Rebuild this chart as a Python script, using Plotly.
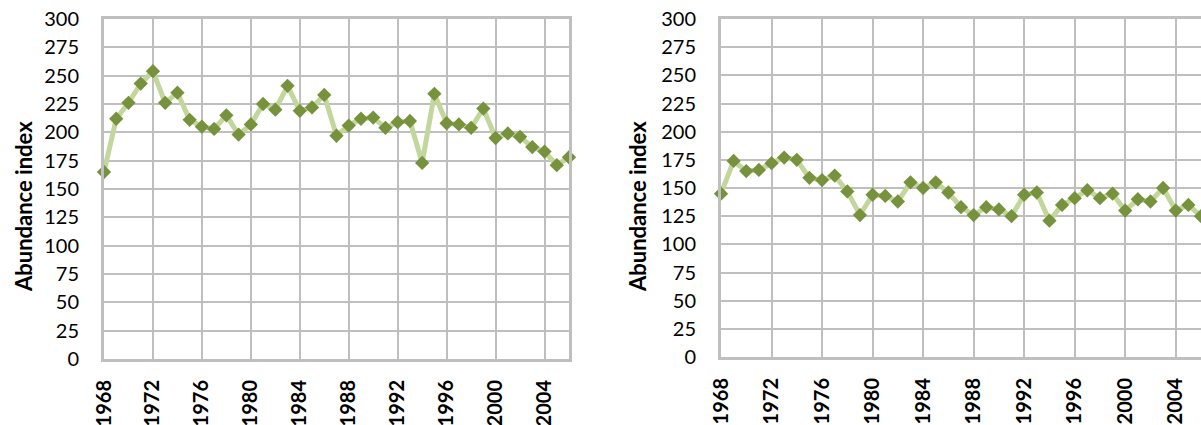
import plotly.graph_objects as go

##### data
years = list(range(1968, 2007))

left_index = [165, 212, 226, 243, 254, 226, 235, 211, 205, 203,
              215, 198, 207, 225, 220, 241, 219, 222, 233, 197,
              206, 212, 213, 204, 209, 210, 173, 234, 208, 207,
              204, 221, 195, 199, 196, 187, 183, 171, 178]

right_index = [145, 174, 165, 166, 172, 177, 175, 159, 157, 161,
               147, 126, 144, 143, 138, 155, 150, 155, 146, 133,
               126, 133, 131, 125, 144, 146, 121, 135, 141, 148,
               141, 145, 130, 140, 138, 150, 130, 135, 125]

y_ticks = list(range(0, 301, 25))
x_ticks = list(range(1968, 2005, 4))

grid = '#BFBFBF'
mark = '#76923C'
line = '#C3D69B'
W, H = 1201, 425

fig = go.Figure()
fig.add_trace(go.Scatter(x=years, y=left_index, mode='lines+markers', xaxis='x', yaxis='y',
                         line=dict(color=line, width=5),
                         marker=dict(symbol='diamond', size=11, color=mark),
                         cliponaxis=False, showlegend=False))
fig.add_trace(go.Scatter(x=years, y=right_index, mode='lines+markers', xaxis='x2', yaxis='y2',
                         line=dict(color=line, width=5),
                         marker=dict(symbol='diamond', size=11, color=mark),
                         cliponaxis=False, showlegend=False))

# invisible ticks are used just to push the labels away from the axis
xstyle = dict(range=[1968, 2006], tickvals=x_ticks, tickangle=-90, automargin=False,
              tickfont=dict(family='Lato', size=20, color='black', weight='bold'),
              showgrid=True, gridcolor=grid, gridwidth=1.5, zeroline=False,
              showline=True, linecolor=grid, linewidth=3, mirror=True,
              ticks='outside', ticklen=10, tickcolor='rgba(0,0,0,0)')
ystyle = dict(range=[0, 300], tickvals=y_ticks, automargin=False,
              tickfont=dict(family='Lato', size=20, color='black'),
              showgrid=True, gridcolor=grid, gridwidth=1.5, zeroline=False,
              showline=True, linecolor=grid, linewidth=3,
              ticks='outside', ticklen=18, tickcolor='rgba(0,0,0,0)')

fig.update_layout(
    width=W, height=H,
    margin=dict(l=0, r=0, t=0, b=0),
    paper_bgcolor='white', plot_bgcolor='white',
    xaxis=dict(domain=[104 / W, 569 / W], anchor='y', **xstyle),
    yaxis=dict(domain=[(H - 359) / H, (H - 19) / H], anchor='x', mirror=True, **ystyle),
    xaxis2=dict(domain=[721 / W, 1.0], anchor='y2', **xstyle),
    yaxis2=dict(domain=[(H - 357) / H, (H - 19) / H], anchor='x2', mirror=False, **ystyle),
    annotations=[
        dict(text='Abundance index', x=23 / W, y=(H - 207) / H, xref='paper', yref='paper',
             xanchor='center', yanchor='middle', textangle=-90, showarrow=False,
             font=dict(family='Lato', size=22, color='black', weight='bold')),
        dict(text='Abundance index', x=637 / W, y=(H - 207) / H, xref='paper', yref='paper',
             xanchor='center', yanchor='middle', textangle=-90, showarrow=False,
             font=dict(family='Lato', size=22, color='black', weight='bold')),
    ],
)

# page body has a default 8px margin; drop it so the figure sits at the window corner
fig.write_html("out.html", config={'displayModeBar': False},
               post_script="document.body.style.margin='0px';")
